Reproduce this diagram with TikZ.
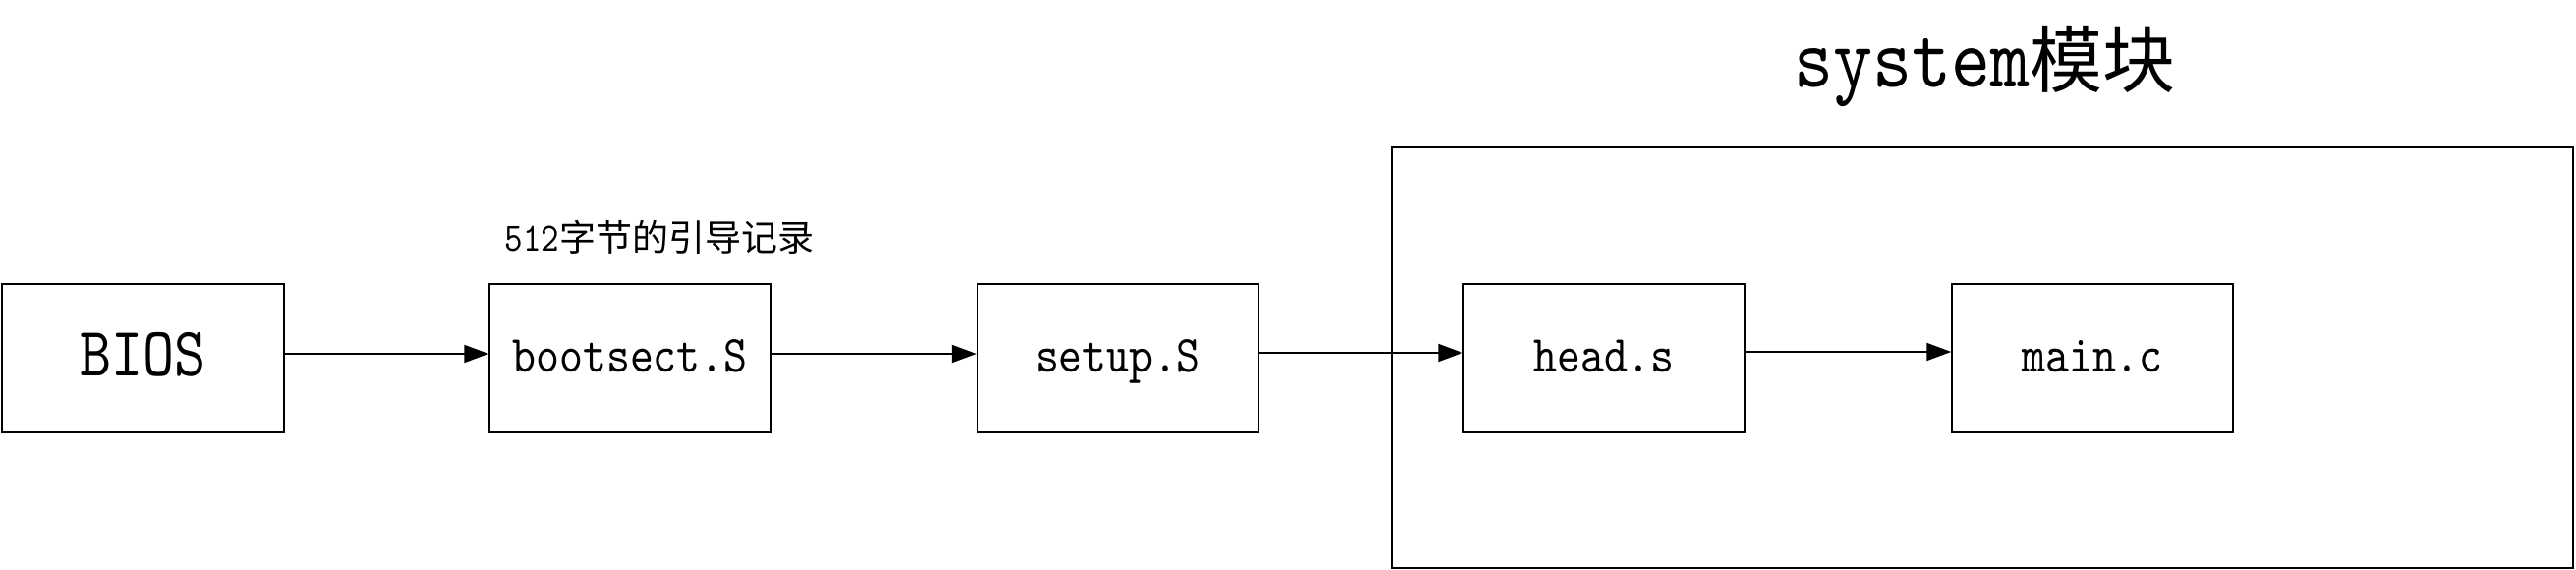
\documentclass[tikz,border=0pt]{standalone}
\usepackage{fontspec}
\usetikzlibrary{arrows.meta}
\newfontfamily\lmm{lmmono10-regular}[Extension=.otf,FakeStretch=0.86]
\newfontfamily\cjk{Noto Sans CJK SC}
\begin{document}
\begin{tikzpicture}[x=1pt,y=-1pt,
  box/.style={draw=black,line width=1.5pt,rectangle,inner sep=0pt,
    minimum width=286pt,minimum height=151pt,
    font=\lmm\fontsize{53}{60}\selectfont,text height=33pt,text depth=6pt},
  arr/.style={line width=2pt,-{Triangle[length=25pt,width=18pt]}},
  lbl/.style={inner sep=0pt,anchor=base}]
\useasboundingbox (0,0) rectangle (2621,580);
\node[box,minimum width=1202pt,minimum height=428pt] (sys) at (2017,364) {};
\node[box,minimum width=287pt,font=\lmm\fontsize{71}{80}\selectfont,text height=42pt,text depth=7pt] (bios) at (145.5,364.5) {BIOS};
\node[box] (boot) at (641,364.5) {bootsect.S};
\node[box] (setup) at (1137.5,364.5) {setup.S};
\node[box] (head) at (1632,364.5) {head.s};
\node[box] (main) at (2129,364.5) {main.c};
\node[lbl] (mbr) at (671,255) {\lmm\fontsize{41}{48}\selectfont 512\cjk\fontsize{37}{48}\selectfont 字节的引导记录};
\node[lbl] (title) at (2019,89) {\lmm\fontsize{88.6}{96}\selectfont system\cjk\fontsize{74}{90}\selectfont 模块};
\draw[arr] ([yshift=4.5pt]bios.east) -- ([yshift=4.5pt]boot.west);
\draw[arr] ([yshift=4.5pt]boot.east) -- ([yshift=4.5pt]setup.west);
\draw[arr] ([yshift=5.5pt]setup.east) -- ([yshift=5.5pt]head.west);
\draw[arr] ([yshift=6.5pt]head.east) -- ([yshift=6.5pt]main.west);
\end{tikzpicture}
\end{document}
